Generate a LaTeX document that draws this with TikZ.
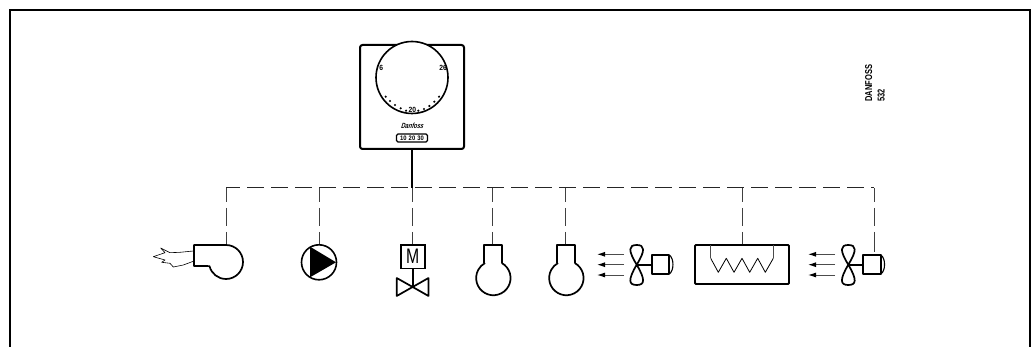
\documentclass[tikz,border=0pt]{standalone}
\usepackage{fontspec}
\setmainfont{Liberation Sans}
\newfontfamily\narrowf[FakeStretch=0.75]{Liberation Sans Bold}
\newfontfamily\narrowreg[FakeStretch=0.75]{Liberation Sans}
\newfontfamily\tinyf[FakeStretch=0.9]{Liberation Sans Bold}
\newfontfamily\logof[FakeStretch=0.75,FakeSlant=0.3]{Liberation Sans Bold}
\usetikzlibrary{arrows.meta}
\tikzset{
  heavy/.style={line width=2pt,line join=round,line cap=round},
  symbolline/.style={line width=1.7pt,line join=round},
  thinline/.style={line width=0.6pt,line join=round},
  busline/.style={line width=1pt,black!85,dash pattern=on 17pt off 7pt,dash phase=3pt},
  dropline/.style={line width=1pt,black!75,dash pattern=on 14pt off 6pt on 18.5pt off 5.5pt on 20pt},
  flowarrow/.style={line width=1pt,black!70,-{Latex[length=8pt,width=5pt,black]}},
  tinytext/.style={inner sep=0pt,font=\tinyf\fontsize{7.5}{8}\selectfont},
}
\begin{document}
\begin{tikzpicture}[x=1pt,y=-1pt]
\useasboundingbox (0,0) rectangle (1035,347);
% frame, open at the foot
\draw[line width=2pt,line join=miter] (9.5,347) -- (9.5,10) -- (1030,10) -- (1030,347);
% thermostat
\draw[fill=white,heavy,rounded corners=2.5pt] (360,45) rectangle (464,149);
\node[circle,draw,fill=white,line width=1.6pt,minimum size=72pt,inner sep=0pt] (dial) at (412,77.5) {};
\node[tinytext] (low) at (381.3,68.3) {6};
\node[tinytext] (high) at (443,68.3) {26};
\node[tinytext] (mid) at (412.3,110) {20};
\foreach \px/\py in {385.7/96.7,390/101,395/105,400.7/108.3,406/110.7,418.3/110.7,424/109,429.3/106,434.3/101.7,439/96.7}
  \fill (\px,\py) circle (1.2pt);
\node[inner sep=0pt,font=\logof\fontsize{7.5}{8}\selectfont] (logo) at (412,126) {Danfoss};
\node[draw,rounded corners=1.5pt,line width=1.1pt,minimum width=31pt,minimum height=8pt,inner sep=0pt,font=\tinyf\fontsize{6.5}{7}\selectfont] (range) at (412,138) {10\,\,20\,\,30};
% text
\node[rotate=90,anchor=south west,inner sep=0pt,font=\narrowf\fontsize{10}{11}\selectfont] (brand) at (872.5,101.7) {DANFOSS};
\node[rotate=90,anchor=south west,inner sep=0pt,font=\narrowf\fontsize{10}{11}\selectfont] (code) at (885,101.7) {532};
% bus
\coordinate (busL) at (226,188);
\coordinate (busR) at (874,188);
\coordinate (therm) at (412,149);
\coordinate (burnerTop) at (226,245);
\coordinate (pumpTop) at (319,244.8);
\coordinate (valveTop) at (412.5,245);
\coordinate (bulbAtop) at (492.7,245);
\coordinate (bulbBtop) at (565.7,245);
\coordinate (heaterTop) at (742,245);
\coordinate (motorTop) at (874,255);
\draw[busline] (busL) -- (busR);
\draw[line width=2pt] (therm) -- (412,188);
\foreach \c in {burnerTop,pumpTop,valveTop,bulbAtop,bulbBtop,heaterTop,motorTop}
  \draw[dropline] (\c |- busL) -- (\c);
% burner
\draw[symbolline] (burnerTop) arc[start angle=-90,end angle=166,radius=17] -- (194,266) -- (194,245) -- cycle;
\draw[thinline] (193.3,251) -- (180,252.3) -- (170,252.7) -- (160.7,248) -- (165,252.7) -- (153.3,256.7) -- (165,260) -- (161.7,262.3) -- (170,263.3) -- (173.3,267) -- (183.3,265) -- (193.3,261.3);
% pump
\node[circle,draw,line width=1.6pt,minimum size=35pt,inner sep=0pt] (pump) at (319,262.3) {};
\fill (310,246.7) -- (336,262.3) -- (310,277.3) -- cycle;
% valve
\node[draw,line width=1.7pt,minimum width=24pt,minimum height=23.3pt,inner sep=0pt,font=\narrowreg\fontsize{21}{22}\selectfont] (motor) at (412.7,256.7) {M};
\draw[symbolline] (motor.south) -- (412.7,287);
\draw[symbolline] (412.7,287) -- (396.7,278) -- (396.7,296) -- (428.5,278) -- (428.5,296) -- cycle;
% bulbs
\foreach \bx/\bn in {492.7/bulbA,565.7/bulbB}{
  \draw[symbolline] (\bx-9,263) -- (\bx-9,245) -- (\bx+9,245) -- (\bx+9,263);
  \draw[symbolline] (\bx+9,263) arc[start angle=-61,end angle=241,radius=17.2];
}
% fans
\foreach \fx/\mx/\ax in {636.7/651.7/624,848.3/863.3/835}{
  \draw[symbolline] (\fx,264.7) .. controls (\fx-9,250) and (\fx-8,245) .. (\fx,245) .. controls (\fx+8,245) and (\fx+9,250) .. (\fx,264.7);
  \draw[symbolline] (\fx,264.7) .. controls (\fx-9,280) and (\fx-8,285) .. (\fx,285) .. controls (\fx+8,285) and (\fx+9,280) .. (\fx,264.7);
  \draw[symbolline] (\fx,264.7) -- (\mx,264.7);
  \draw[symbolline] (\mx,255) rectangle (\mx+17.5,274);
  \draw[line width=1.1pt] (\mx+17.5,255) .. controls (\mx+22.5,258) and (\mx+22.5,271) .. (\mx+17.5,274);
  \foreach \ay in {254.3,264.7,275}
    \draw[flowarrow] (\ax,\ay) -- (\ax-27,\ay);
}
% heater
\node[draw,line width=1.8pt,rounded corners=1pt,minimum width=94pt,minimum height=39pt,inner sep=0pt] (heater) at (742,264.5) {};
\draw[line width=1pt,black!70] (710.7,245) -- (710.7,258.3);
\draw[line width=1pt,black!70] (773.3,245) -- (773.3,258.3);
\draw[line width=0.8pt,line join=round] (710.7,258.3) -- (718.3,272.3) -- (726.3,258.3) -- (734,272.3) -- (742,258.3) -- (749.7,272.3) -- (757.7,258.3) -- (765.3,272.3) -- (773.3,258.3);
\end{tikzpicture}
\end{document}
